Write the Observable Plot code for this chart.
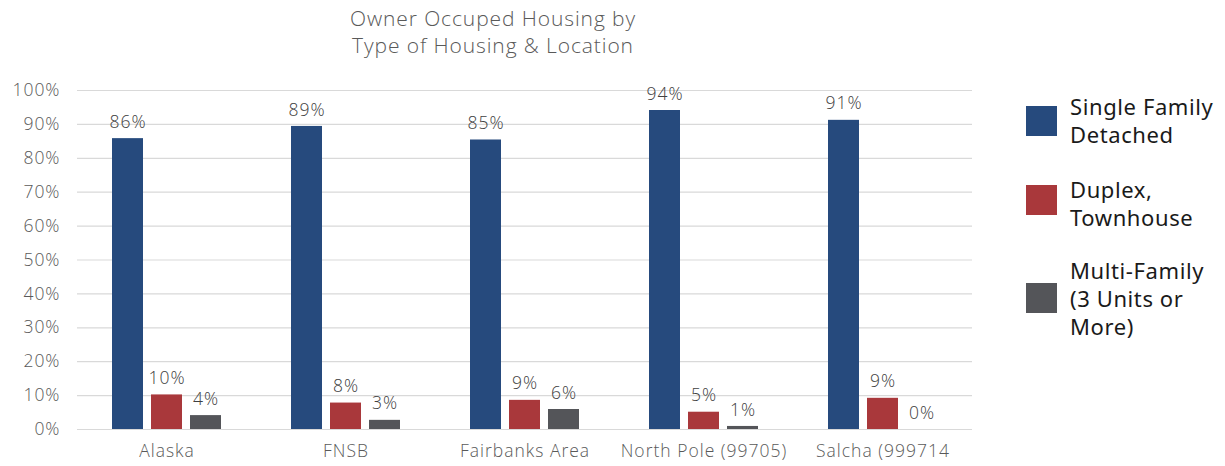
<!DOCTYPE html>
<html>
<head>
<meta charset="utf-8">
<script src="https://cdn.jsdelivr.net/npm/d3@7"></script>
<script src="https://cdn.jsdelivr.net/npm/@observablehq/plot@0.6"></script>
<style>
  html, body { margin: 0; padding: 0; background: #fff; }
  #wrap { position: relative; width: 1225px; height: 466px; overflow: hidden; font-family: "Open Sans", sans-serif; }
  #title { position: absolute; left: 0; top: 5px; width: 986px; text-align: center; font-size: 21px; letter-spacing: 0.9px; line-height: 27px; color: #595959; font-weight: 300; }
  #chart { position: absolute; left: 0; top: 60px; }
  #legend { position: absolute; left: 1026px; top: 92px; font-family: "Noto Sans", sans-serif; font-size: 22px; letter-spacing: 0.6px; line-height: 28px; color: #1a1a1a; }
  .item { position: absolute; padding-left: 44px; white-space: nowrap; }
  .sw { position: absolute; left: 0; width: 31px; height: 30px; }
  #chart svg text { font-weight: 300; letter-spacing: 1px; }
</style>
</head>
<body>
<div id="wrap">
  <div id="title">Owner Occuped Housing by<br>Type of Housing &amp; Location</div>
  <div id="chart"></div>
  <div id="legend"></div>
</div>
<script>
const locations = ["Alaska", "FNSB", "Fairbanks Area", "North Pole (99705)", "Salcha (999714"];
const seriesNames = ["Single Family Detached", "Duplex, Townhouse", "Multi-Family (3 Units or More)"];
const legendLines = [["Single Family", "Detached"], ["Duplex,", "Townhouse"], ["Multi-Family", "(3 Units or", "More)"]];
const colors = ["#264a7d", "#a9383b", "#545559"];
const singleFamily = [0.858, 0.894, 0.854, 0.941, 0.912];
const duplex = [0.102, 0.078, 0.086, 0.051, 0.092];
const multiFamily = [0.041, 0.027, 0.059, 0.009, 0.0];
const yTicks = [0, 0.1, 0.2, 0.3, 0.4, 0.5, 0.6, 0.7, 0.8, 0.9, 1.0];

const seriesValues = [singleFamily, duplex, multiFamily];
const data = [];
locations.forEach((loc, i) => {
  seriesNames.forEach((s, j) => {
    data.push({loc, series: s, value: seriesValues[j][i]});
  });
});

const fmt = d3.format(".0%");

const chart = Plot.plot({
  width: 980,
  height: 406,
  marginLeft: 77,
  marginRight: 8,
  marginTop: 30,
  marginBottom: 37,
  style: {fontFamily: "'Open Sans', sans-serif", fontSize: "17px", color: "#595959", background: "transparent"},
  fx: {domain: locations, padding: 0, label: null},
  x: {domain: seriesNames, paddingInner: 0.2, paddingOuter: 0.84, axis: null},
  y: {domain: [0, 1]},
  color: {domain: seriesNames, range: colors},
  marks: [
    Plot.ruleY(yTicks, {stroke: "#d9d9d9", strokeWidth: 1.2}),
    Plot.axisY({ticks: yTicks, tickFormat: d3.format(".0%"), tickSize: 0, tickPadding: 17, label: null, fontSize: 17.5, fill: "#595959"}),
    Plot.axisFx({anchor: "bottom", tickSize: 0, tickPadding: 15, label: null, fontSize: 17.5, fill: "#595959"}),
    Plot.barY(data, {fx: "loc", x: "series", y: "value", fill: "series"}),
    Plot.text(data, {fx: "loc", x: "series", y: "value", text: d => fmt(d.value), dy: -16.5, fill: "#404040", fontSize: 17.5})
  ]
});
document.getElementById("chart").appendChild(chart);

const legend = document.getElementById("legend");
const tops = [0, 83, 164];
const swOff = [14, 10, 27];
legendLines.forEach((lines, i) => {
  const item = document.createElement("div");
  item.className = "item";
  item.style.top = tops[i] + "px";
  const sw = document.createElement("div");
  sw.className = "sw";
  sw.style.background = colors[i];
  sw.style.top = swOff[i] + "px";
  item.appendChild(sw);
  const t = document.createElement("div");
  t.innerHTML = lines.join("<br>");
  item.appendChild(t);
  legend.appendChild(item);
});
</script>
</body>
</html>
